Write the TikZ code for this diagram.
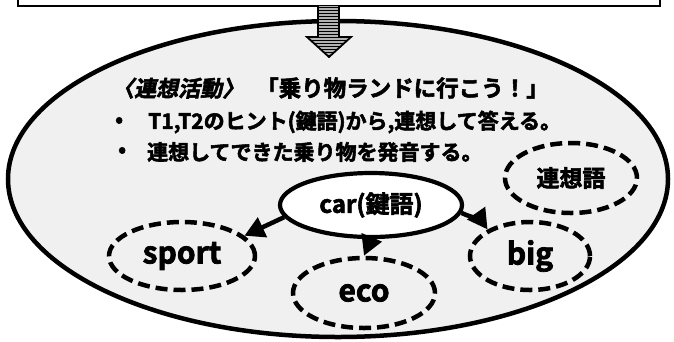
\documentclass[tikz,border=0pt]{standalone}
\usepackage{fontspec}
\usetikzlibrary{shapes.geometric,arrows.meta,patterns}
\newfontfamily\jpb{Noto Sans CJK JP Bold}[FakeBold=2.5]
\newfontfamily\jpbi{Noto Sans CJK JP Bold}[FakeSlant=0.2,FakeBold=2.5]
\begin{document}
\begin{tikzpicture}[x=1pt,y=-1pt,
  txt/.style={inner sep=0pt, anchor=west, font=\jpb\fontsize{21}{24}\selectfont},
  keynode/.style={ellipse, draw, line width=4.2pt, fill=white, inner sep=0pt,
     minimum width=182pt, minimum height=64pt, font=\jpb\fontsize{24}{26}\selectfont},
  assoc/.style={ellipse, draw, line width=4.5pt, dash pattern=on 12pt off 6pt, inner sep=0pt,
     font=\jpb\fontsize{30}{32}\selectfont},
  link/.style={line width=4.5pt, -{Triangle[length=20pt,width=21pt]}}]
\useasboundingbox (0,0) rectangle (674,341);
\clip (0,0) rectangle (674,341);
% top box (cut by the page edge)
\draw[line width=2.2pt] (18,-30) rectangle (660,6);
% outer ellipse
\draw[line width=4.5pt, fill=black!6] (338,179) ellipse [x radius=330, y radius=158];
% block arrow
\draw[line width=1.8pt, preaction={fill=black!30}, pattern=horizontal lines]
  (318,6) -- (318,37) -- (307,37) -- (329,57) -- (351,37) -- (339,37) -- (339,6);
% texts
\node[txt, font=\jpb\fontsize{22}{24}\selectfont] (title) at (112,88)
  {\jpbi 〈連想活動〉\jpb\fontsize{22.5}{24}\selectfont\hspace{12pt}「乗り物ランドに行こう！」};
\node[txt] (b1) at (115,122) {•};
\node[txt] (l1) at (148,122) {T1,T2のヒント(鍵語)から,連想して答える。};
\node[txt] (b2) at (118,152) {•};
\node[txt] (l2) at (147,152) {連想してできた乗り物を発音する。};
% nodes
\node[keynode] (car) at (371,205) {car(鍵語)};
\node[assoc, minimum width=146pt, minimum height=68pt] (sport) at (182,256) {sport};
\node[assoc, minimum width=142pt, minimum height=70pt] (eco) at (364,293) {eco};
\node[assoc, minimum width=120pt, minimum height=68pt] (big) at (530,256) {big};
\node[assoc, minimum width=132pt, minimum height=70pt, font=\jpb\fontsize{23}{26}\selectfont] (rensou) at (571,178) {連想語};
% connectors
\draw[link] (car.188) -- (sport.18);
\draw[link] (car.south) -- (eco.north);
\draw[link] (car.-5) to[out=-25,in=125] (big.148);
\end{tikzpicture}
\end{document}
